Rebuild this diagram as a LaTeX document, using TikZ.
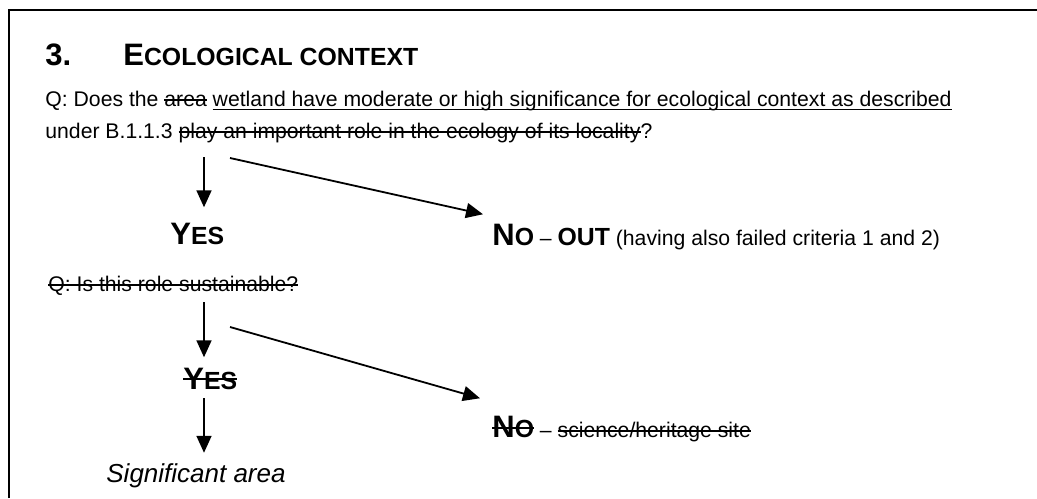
\documentclass[tikz,border=0pt]{standalone}
\usepackage{fontspec}
\setmainfont{Liberation Sans}
\usetikzlibrary{arrows.meta}
\newsavebox\markbox
\newcommand\strk[2][2.7pt]{\sbox\markbox{#2}\rlap{\rule[#1]{\wd\markbox}{0.8pt}}\usebox\markbox}
\newcommand\undl[1]{\sbox\markbox{#1}\rlap{\rule[-2.2pt]{\wd\markbox}{0.8pt}}\usebox\markbox}
\newcommand\bodyfont{\fontsize{10.6}{12.6}\selectfont}
\newcommand\hdcaps{\fontsize{15.5}{18}\selectfont\bfseries}
\newcommand\hdsmall{\fontsize{12.4}{15}\selectfont\bfseries}
\tikzset{
  txt/.style={anchor=base west, inner sep=0pt, font=\bodyfont},
  arr/.style={-{Triangle[length=8.5pt,width=7.5pt]}, line width=0.9pt},
}

\begin{document}
\begin{tikzpicture}[x=0.5pt, y=-0.5pt]
      \useasboundingbox (0,0) rectangle (1037,498);
      \draw [line width=1.1pt] (9,498) -- (9,10) -- (1037,10);
      % heading and first question
      \node [txt] (num) at (45,65) {\hdcaps 3.};
      \node [txt] (title) at (123,65) {{\hdcaps E}{\hdsmall COLOGICAL CONTEXT}};
      \node [txt] (qa) at (45,106) {Q: Does the \strk{area} \undl{wetland have moderate or high significance for ecological context as described}};
      \node [txt] (qb) at (45,138) {under B.1.1.3 \strk{play an important role in the ecology of its locality}?};
      \node [txt] (yesa) at (170,244) {{\hdcaps Y}{\hdsmall ES}};
      \node [txt] (noa) at (492,245) {{\hdcaps N}{\hdsmall O} -- {\hdsmall OUT} (having also failed criteria 1 and 2)};
      % second question
      \node [txt] (qc) at (48,291) {\strk{Q: Is this role sustainable?}};
      \node [txt] (yesb) at (183,389) {\strk[4.5pt]{{\hdcaps Y}{\hdsmall ES}}};
      \node [txt] (nob) at (492,437) {\strk[4pt]{{\hdcaps N}{\hdsmall O}} -- \strk{science/heritage site}};
      \node [txt] (sig) at (106,482) {\fontsize{13}{15}\selectfont\itshape Significant area};
      % arrows
      \coordinate (sa) at (204,157);
      \coordinate (da) at (230,158);
      \coordinate (sb) at (204,302);
      \coordinate (db) at (230,327);
      \coordinate (sc) at (204,398);
      \draw [arr, shorten >=7.5pt] (sa) -- (sa |- yesa.north);
      \draw [arr] (da) -- ([shift={(-9,-9)}]noa.north west);
      \draw [arr, shorten >=5pt] (sb) -- (sb |- yesb.north);
      \draw [arr] (db) -- ([shift={(-12,-17)}]nob.north west);
      \draw [arr, shorten >=5pt] (sc) -- (sc |- sig.north);
\end{tikzpicture}
\end{document}
